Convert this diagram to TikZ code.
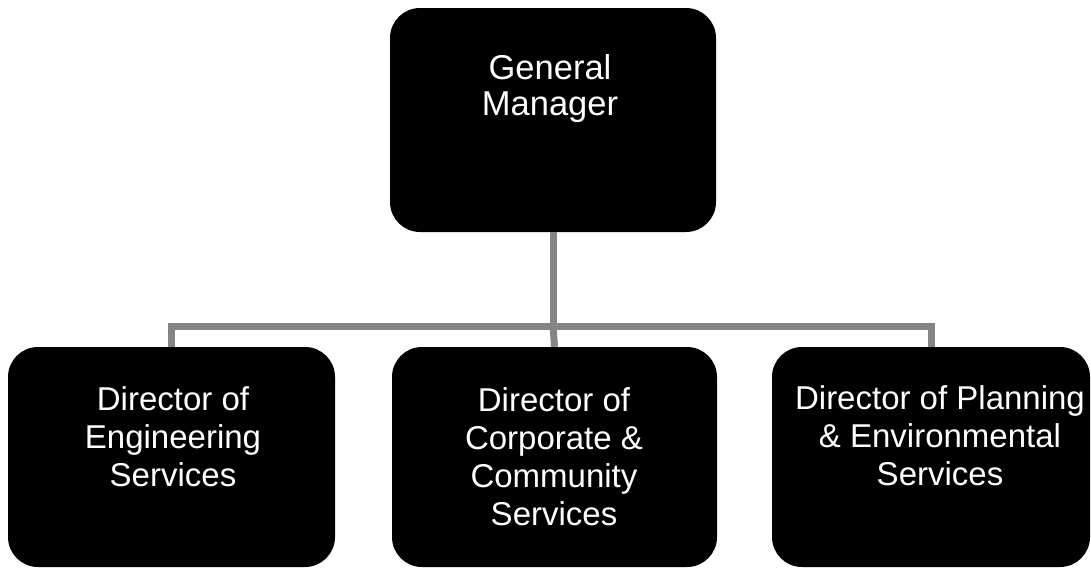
\documentclass[tikz,border=0pt]{standalone}
\usepackage{fontspec}
\setmainfont{Liberation Sans}
\begin{document}
\begin{tikzpicture}[x=1pt,y=-1pt,
  boxnode/.style={draw=none,fill=black,rounded corners=30pt,inner sep=0pt},
  boxtext/.style={text=white,align=center,inner sep=0pt,anchor=base,
    font=\fontsize{33}{38}\selectfont},
  link/.style={draw=black!48,line width=7pt}]
\useasboundingbox (0,0) rectangle (1091,568);
% boxes
\node[boxnode,minimum width=326pt,minimum height=224pt] (gm) at (553,120) {};
\node[boxnode,minimum width=327pt,minimum height=220pt] (eng) at (171.5,457) {};
\node[boxnode,minimum width=325pt,minimum height=220pt] (corp) at (554.5,457) {};
\node[boxnode,minimum width=318pt,minimum height=220pt] (plan) at (931,457) {};
% texts (anchor base = baseline of the last line)
\node[boxtext,font=\fontsize{34.5}{36}\selectfont] (gmt) at (550,115) {General\\Manager};
\node[boxtext] (engt) at (173,486) {Director of\\Engineering\\Services};
\node[boxtext] (corpt) at (554,525) {Director of\\Corporate \&\\Community\\Services};
\node[boxtext] (plant) at (940,485) {Director of Planning\\\& Environmental\\Services};
% connectors
\coordinate (bus) at (553,326);
\draw[link] (gm.south) -- (bus);
\draw[link] (eng.north) |- (bus) -| (plan.north);
\draw[link] (bus) -- (corp.north);
\end{tikzpicture}
\end{document}
